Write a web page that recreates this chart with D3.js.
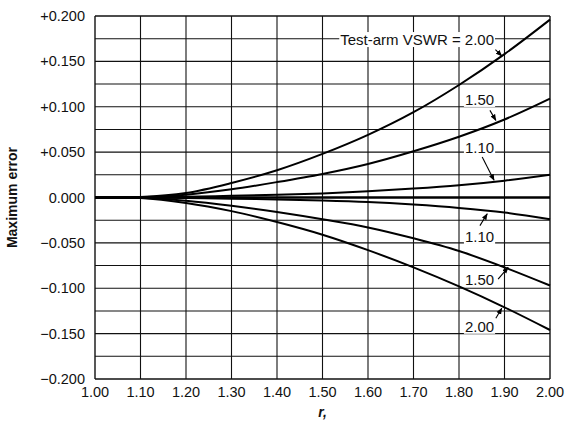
<!DOCTYPE html>
<html><head><meta charset="utf-8">
<script src="https://cdn.jsdelivr.net/npm/d3@7"></script>
<style>body{margin:0;background:#fff}svg{display:block}text{font-family:"Liberation Sans",Arial,sans-serif;fill:#111}</style>
</head><body><svg id="c" width="578" height="421"></svg>
<script>
const rVals = [1.0,1.1,1.2,1.3,1.4,1.5,1.6,1.7,1.8,1.9,2.0];
const pos200 = [0,0.0005,0.005,0.016,0.030,0.048,0.069,0.094,0.124,0.158,0.196];
const pos150 = [0,0.0003,0.003,0.009,0.017,0.026,0.037,0.051,0.067,0.086,0.109];
const pos110 = [0,0.0001,0.0008,0.0018,0.003,0.0045,0.0068,0.0098,0.0135,0.0185,0.025];
const zero100 = [0,0,0,0,0,0,0,0,0,0,0];
const neg110 = [0,-0.0001,-0.0006,-0.0013,-0.0022,-0.0033,-0.005,-0.0078,-0.0115,-0.0165,-0.024];
const neg150 = [0,-0.0003,-0.0035,-0.009,-0.016,-0.024,-0.033,-0.045,-0.059,-0.077,-0.097];
const neg200 = [0,-0.0005,-0.006,-0.015,-0.027,-0.041,-0.058,-0.077,-0.098,-0.121,-0.146];
const xTicks = [1.0,1.1,1.2,1.3,1.4,1.5,1.6,1.7,1.8,1.9,2.0];
const yTicks = [0.2,0.15,0.1,0.05,0,-0.05,-0.1,-0.15,-0.2];
const yGrid = [0.2,0.175,0.15,0.125,0.1,0.075,0.05,0.025,0,-0.025,-0.05,-0.075,-0.1,-0.125,-0.15,-0.175,-0.2];
const yTickLabels = ["+0.200","+0.150","+0.100","+0.050","0.000","\u22120.050","\u22120.100","\u22120.150","\u22120.200"];
const xTickLabels = ["1.00","1.10","1.20","1.30","1.40","1.50","1.60","1.70","1.80","1.90","2.00"];
const series = [pos200,pos150,pos110,zero100,neg110,neg150,neg200];
const notes = [
  {t:"Test-arm VSWR = 2.00", x:1.877, y:0.168, anchor:"end", a:[[1.880,0.163],[1.894,0.156]]},
  {t:"1.50", x:1.813, y:0.102, anchor:"start", a:[[1.868,0.096],[1.881,0.085]]},
  {t:"1.10", x:1.813, y:0.049, anchor:"start", a:[[1.851,0.0446],[1.877,0.019]]},
  {t:"1.10", x:1.813, y:-0.049, anchor:"start", a:[[1.846,-0.031],[1.862,-0.018]]},
  {t:"1.50", x:1.813, y:-0.0964, anchor:"start", a:[[1.886,-0.090],[1.908,-0.077]]},
  {t:"2.00", x:1.813, y:-0.148, anchor:"start", a:[[1.881,-0.133],[1.894,-0.122]]}
];

const svg = d3.select("#c");
const x = d3.scaleLinear().domain([1,2]).range([95,550]);
const y = d3.scaleLinear().domain([-0.2,0.2]).range([379,16]);

svg.append("g").selectAll("line").data(yGrid).join("line")
  .attr("x1",x(1)).attr("x2",x(2)).attr("y1",d=>y(d)).attr("y2",d=>y(d))
  .attr("stroke","#111").attr("stroke-width",d=>Math.abs(d)===0.2?1.4:1.1);
svg.append("g").selectAll("line").data(xTicks).join("line")
  .attr("x1",d=>x(d)).attr("x2",d=>x(d)).attr("y1",y(0.2)).attr("y2",y(-0.2))
  .attr("stroke","#111").attr("stroke-width",d=>(d===1||d===2)?1.4:1.1);

svg.append("g").selectAll("text").data(yTicks).join("text")
  .attr("x",x(1)-10).attr("y",d=>y(d)+5).attr("text-anchor","end")
  .attr("font-size",14.5).text((d,i)=>yTickLabels[i]);
svg.append("g").selectAll("text").data(xTicks).join("text")
  .attr("x",d=>x(d)).attr("y",y(-0.2)+18).attr("text-anchor","middle")
  .attr("font-size",14.5).text((d,i)=>xTickLabels[i]);

svg.append("text").attr("transform",`translate(17,${y(0)}) rotate(-90)`)
  .attr("text-anchor","middle").attr("font-size",14).attr("font-weight","bold").text("Maximum error");
svg.append("text").attr("x",x(1.5)).attr("y",417).attr("text-anchor","middle")
  .attr("font-size",14).attr("font-style","italic").attr("font-family","Liberation Serif, serif").attr("font-weight","bold").text("r,");

const line = d3.line().x((d,i)=>x(rVals[i])).y(d=>y(d)).curve(d3.curveCatmullRom.alpha(0.5));
svg.append("g").selectAll("path").data(series).join("path")
  .attr("d",line).attr("fill","none").attr("stroke","#000")
  .attr("stroke-width",(d,i)=>i===3?2.6:2);

svg.append("defs").append("marker").attr("id","ah").attr("viewBox","0 0 10 10")
  .attr("refX",9).attr("refY",5).attr("markerWidth",6).attr("markerHeight",6).attr("orient","auto")
  .append("path").attr("d","M0,1 L10,5 L0,9 Z").attr("fill","#000");
const ag = svg.append("g");
notes.forEach(n=>{
  const r = ag.append("rect").attr("fill","#fff");
  const t = ag.append("text").attr("x",x(n.x)).attr("y",y(n.y)).attr("text-anchor",n.anchor)
    .attr("font-size",15).text(n.t);
  const bb = t.node().getBBox();
  r.attr("x",bb.x-1).attr("y",bb.y+1).attr("width",bb.width+2).attr("height",bb.height-2);
  ag.append("line").attr("x1",x(n.a[0][0])).attr("y1",y(n.a[0][1])).attr("x2",x(n.a[1][0])).attr("y2",y(n.a[1][1]))
    .attr("stroke","#000").attr("stroke-width",1.1).attr("marker-end","url(#ah)");
});
</script></body></html>
